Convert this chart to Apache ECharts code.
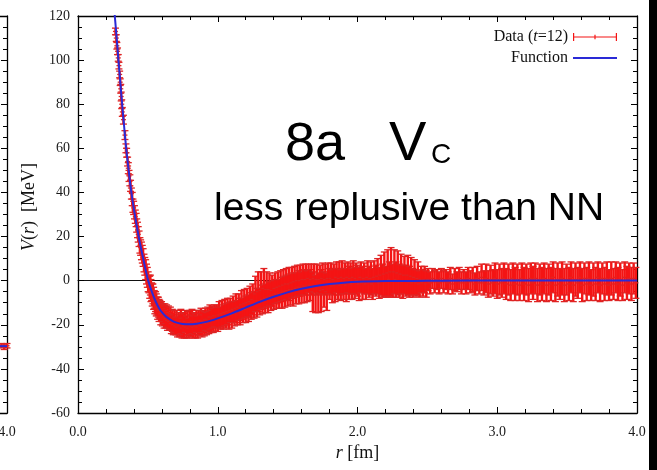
<!DOCTYPE html>
<html>
<head>
<meta charset="utf-8">
<script src="https://cdn.jsdelivr.net/npm/echarts/dist/echarts.min.js"></script>
<style>
  html, body { margin: 0; padding: 0; background: #fff; }
  #chart { width: 657px; height: 470px; }
</style>
</head>
<body>
<div id="chart"></div>
<script>
// Central potential V_C(r) of the 8a channel: lattice data (t=12) with error bars and fitted function.

// Repulsive core, r < 0.5 fm
const coreR = [0.268,0.274,0.278,0.283,0.288,0.293,0.298,0.302,0.306,0.309,0.313,0.317,0.325,0.336,0.343,0.348,0.355,0.360,0.365,0.371,0.376,0.382,0.388,0.393,0.398,0.404,0.410,0.416,0.420,0.426,0.431,0.437,0.443,0.448,0.454,0.460,0.466,0.472,0.478,0.484,0.490,0.496];
const coreV = [113,110,106.5,104,101,97.5,93.5,90,87,83.5,80,76.5,73,66,60,58,54,51,47.5,45.5,43,39.5,37,34,33,31,29,27.5,25,23,21,19,16,15,13.5,12,10.5,8,6.5,5,3,1.5];
const coreE = [1.5,1.5,1.5,1.5,1.5,1.5,1.5,1.5,2,2,2,2,2,2,2,2,2,2.5,2.5,2.5,2.5,2.5,3,3,3,3,3,3,3,3.5,3.5,3.5,3.5,3.5,4,4,4,4,4,4.5,4.5,4.5];

// Attractive pocket, 0.5 - 1.0 fm
const wellR = [0.502,0.508,0.513,0.518,0.522,0.527,0.531,0.536,0.541,0.546,0.550,0.555,0.560,0.565,0.570,0.575,0.580,0.586,0.592,0.598,0.604,0.610,0.616,0.622,0.628,0.634,0.640,0.647,0.654,0.661,0.668,0.675,0.682,0.690,0.697,0.705,0.712,0.720,0.728,0.736,0.744,0.752,0.760,0.768,0.776,0.784,0.792,0.800,0.808,0.816,0.824,0.832,0.840,0.848,0.856,0.864,0.872,0.880,0.888,0.896,0.904,0.912,0.920,0.928,0.936,0.944,0.952,0.960,0.968,0.976,0.984,0.992];
const wellV = [-0.5,-1.5,-3,-2,-4.5,-5,-6.5,-6,-8,-8.5,-10,-9.5,-11,-11.5,-12.5,-12,-13.5,-13,-15,-14,-15.5,-14.5,-16.5,-15,-17,-16,-18,-16.5,-18.5,-17,-19.5,-18,-20,-18.5,-20.5,-19,-21,-19.5,-20.5,-18.5,-21.5,-19.5,-20.5,-18.5,-21,-19.5,-21.5,-19,-20.5,-18.5,-21,-19.5,-20.5,-18.5,-21,-19,-20,-18,-20.5,-18.5,-19.5,-17.5,-19.5,-17.5,-19,-16.5,-18.5,-16.5,-18,-16,-17.5,-16];
const wellE = [4.5,4,5,4.5,5,4,5,4.5,5,4,5,4.5,5,4,5,4.5,5,4,5,4.5,5,4,5,4.5,4.5,5,4.5,5,4,5,4.5,5,4.5,5,4,5.5,4.5,5,5,5.5,4.5,5,5.5,5,5,5.5,4.5,5.5,5,5.5,5,5,5.5,5,5,5.5,5,5.5,5,5,5.5,5,5,5.5,5,5.5,5,5,5.5,5,5.5,5];

// Rise back towards zero, 1.0 - 2.0 fm
const riseR = [1.00,1.01,1.02,1.03,1.04,1.05,1.06,1.07,1.08,1.09,1.10,1.11,1.12,1.13,1.14,1.15,1.16,1.17,1.18,1.19,1.20,1.21,1.22,1.23,1.24,1.25,1.26,1.27,1.28,1.29,1.30,1.31,1.32,1.33,1.34,1.35,1.36,1.37,1.38,1.39,1.40,1.41,1.42,1.43,1.44,1.45,1.46,1.47,1.48,1.49,1.50,1.51,1.52,1.53,1.54,1.55,1.56,1.57,1.58,1.59,1.60,1.61,1.62,1.63,1.64,1.65,1.66,1.67,1.68,1.69,1.70,1.71,1.72,1.73,1.74,1.75,1.76,1.77,1.78,1.79,1.80,1.81,1.82,1.83,1.84,1.85,1.86,1.87,1.88,1.89,1.90,1.91,1.92,1.93,1.94,1.95,1.96,1.97,1.98,1.99];
const riseV = [-17.5,-15.5,-17,-15,-16.5,-14.5,-16,-14,-16,-13.5,-15.5,-13,-15,-12.5,-14.5,-12,-14,-11,-13.5,-10.5,-13,-10,-12.5,-9.5,-11.5,-8.5,-11,-6,-10,-5,-9.5,-4.5,-8.5,-3.5,-8,-4,-7.5,-4,-7,-4.5,-6.5,-3.5,-6,-3,-6,-2.5,-5.5,-2,-5,-1.5,-4.5,-1.5,-4,-1,-4,-0.5,-3.5,0,-3,0,-3,0.5,-2.5,0.5,-2.5,1,-2,0.5,-5,1,-6,0.5,-5.5,0.5,-4.5,1,-4,0.5,-5,1,-1.5,1,-2.5,0.5,-2,1.5,-1.5,1,-2,1.5,-1.5,1,-2,1.5,-1,1,-1.5,1.5,-1,1];
const riseE = [5.5,6,5,6,5.5,6,5.5,6,6,5.5,6,6,5.5,6.5,5.5,6,6,6.5,5.5,6.5,6,6.5,6,7,6,7,6,8,6.5,9,6,8.5,6.5,9,6.5,8,7,7.5,6.5,7,6.5,7,6.5,7,6.5,7,7,7,7,7,7,7.5,7,7,7.5,7,7,7,7.5,7,7,7,7.5,7,7,6.5,7,7,9,6.5,8.5,7,9,6.5,9.5,7,8,7,8.5,7,7,7,7.5,7,7.5,7,7,7.5,7,7.5,7,7,7.5,7,7.5,7,7,7.5,7,7];

// Flat region with the larger-error bump, 2.0 - 2.5 fm
const midR = [2.000,2.012,2.024,2.036,2.048,2.060,2.072,2.084,2.096,2.108,2.120,2.132,2.144,2.156,2.168,2.180,2.192,2.204,2.216,2.228,2.240,2.252,2.264,2.276,2.288,2.300,2.312,2.324,2.336,2.348,2.360,2.372,2.384,2.396,2.408,2.420,2.432,2.444,2.456,2.468,2.480,2.492];
const midV = [0,-1.5,1.5,-1,1,-1.5,1.5,-0.5,1,-1.5,1.5,0,2,-1,2.5,0,3,-0.5,3.5,0.5,4,0,4,0.5,3.5,0,3,-0.5,2.5,0,2.5,-0.5,2,-1,1.5,-1,1,-1.5,0.5,-1,0.5,-1.5];
const midE = [7,7.5,7,7.5,7,7,7.5,7,7.5,7,7.5,7,8,7,9,7.5,10,7,10.5,8,11,7.5,10,8,10,7.5,9,7.5,8.5,7,9,7,8.5,6.5,8,6,7.5,6,6,6,6,6];

// Long-range tail, 2.5 - 4.0 fm
const tailR = [2.504,2.520,2.536,2.552,2.568,2.584,2.600,2.616,2.632,2.648,2.664,2.680,2.696,2.712,2.728,2.744,2.760,2.776,2.792,2.808,2.824,2.840,2.856,2.872,2.888,2.904,2.920,2.936,2.952,2.968,2.984,3.000,3.016,3.032,3.048,3.064,3.080,3.096,3.112,3.128,3.144,3.160,3.176,3.192,3.208,3.224,3.240,3.256,3.272,3.288,3.304,3.320,3.336,3.352,3.368,3.384,3.400,3.416,3.432,3.448,3.464,3.480,3.496,3.512,3.528,3.544,3.560,3.576,3.592,3.608,3.624,3.640,3.656,3.672,3.688,3.704,3.720,3.736,3.752,3.768,3.784,3.800,3.816,3.832,3.848,3.864,3.880,3.896,3.912,3.928,3.944,3.960,3.976,3.992];
const tailV = [0.5,-1,1,-0.5,0.5,-1,1,-0.5,0.5,-1,1,-1.5,0.5,-0.5,1,-1,0.5,-1,1,-0.5,0.5,-1.5,1,-1,1.5,-1,1,-1.5,0.5,-1,1,-1.5,0.5,-1,1,-1.5,0.5,-2,1,-1.5,0.5,-2,1,-1.5,0.5,-2,1,-1,1,-2,0.5,-1.5,1,-2,0.5,-1.5,1.5,-2,0.5,-1.5,1,-2,0.5,-1.5,1.5,-2,0.5,-1,1.5,-2,1,-1.5,1,-2,0.5,-1.5,1.5,-2,1,-1.5,1,-2,1,-1.5,1.5,-1.5,0.5,-2,1.5,-1,1,-1.5,1,-1];
const tailE = [5,5,4.5,5,4.5,5,4.5,5,4.5,5,5,4.5,5,4.5,5,5,4.5,5,5,5,5.5,5,5.5,5,6,5.5,6.5,6,6.5,6,7,6.5,7,6.5,7,7,7,7,7,7.5,7,7,7,7.5,7,7.5,7,7.5,7,7.5,7,7.5,7,7.5,7,7.5,7,7.5,7.5,7,7.5,7.5,7,7.5,7,7.5,7.5,7,7,7.5,7,7.5,7.5,7,7.5,7.5,7,7.5,7,7.5,7.5,7,7.5,7,7,7.5,7.5,7,7,7.5,7,7.5,7,7];

// Fitted function
const fitR = [0.262,0.27,0.28,0.29,0.30,0.31,0.32,0.33,0.34,0.35,0.36,0.37,0.38,0.39,0.40,0.42,0.44,0.46,0.48,0.50,0.52,0.54,0.56,0.58,0.60,0.625,0.65,0.675,0.70,0.75,0.80,0.85,0.90,0.95,1.0,1.1,1.2,1.3,1.4,1.5,1.6,1.7,1.8,1.9,2.0,2.2,2.4,2.6,3.0,3.5,4.0];
const fitV = [121,115,107.5,99.5,92,84.5,77,70,63,57,51.5,46,41,36.5,32.5,25,18,12,6,0.5,-3.5,-7,-10,-12.5,-14.3,-16,-17.2,-18.2,-18.9,-19.6,-19.8,-19.5,-18.9,-18.1,-17.1,-14.8,-12.2,-9.6,-7.3,-5.3,-3.7,-2.4,-1.5,-0.9,-0.5,-0.2,-0.1,0,0.1,0.1,0.1];

// Edge of the neighbouring panel on the left
const prevR = [3.960, 3.980, 4.000];
const prevV = [-29.5, -30, -29.5];
const prevE = [1, 1.2, 1];
const prevFitR = [3.90, 4.00];
const prevFitV = [-29.7, -29.7];

// Axis ticks
const rTicks = { min: 0, max: 4, step: 1 };
const vTicks = { min: -60, max: 120, step: 20 };

const DATA_NAME = 'Data (t=12)';
const FIT_NAME = 'Function';
const RED = '#f41414';
const CAP_RED = '#de2424';
const BLUE = '#2a2ad6';
const SERIF = '"Liberation Serif", "DejaVu Serif", serif';
const SANS = '"Liberation Sans", Arial, sans-serif';

function rows(rs, vs, es) {
  const out = [];
  for (let i = 0; i < rs.length; i++) out.push([rs[i], vs[i], es[i]]);
  return out;
}
const latticeRows = [].concat(
  rows(coreR, coreV, coreE),
  rows(wellR, wellV, wellE),
  rows(riseR, riseV, riseE),
  rows(midR, midV, midE),
  rows(tailR, tailV, tailE)
);
const fitRows = fitR.map((r, i) => [r, fitV[i]]);

function errorBarItem(params, api) {
  const r = api.value(0), v = api.value(1), e = api.value(2);
  const hi = api.coord([r, v + e]);
  const lo = api.coord([r, v - e]);
  const mid = api.coord([r, v]);
  const hw = 3.5;
  const bar = { stroke: RED, lineWidth: 2.4 };
  const cap = { stroke: CAP_RED, lineWidth: 1.3 };
  return {
    type: 'group',
    children: [
      { type: 'line', shape: { x1: hi[0], y1: hi[1], x2: lo[0], y2: lo[1] }, style: bar },
      { type: 'line', shape: { x1: hi[0] - hw, y1: hi[1], x2: hi[0] + hw, y2: hi[1] }, style: cap },
      { type: 'line', shape: { x1: lo[0] - hw, y1: lo[1], x2: lo[0] + hw, y2: lo[1] }, style: cap },
      { type: 'line', shape: { x1: mid[0] - 2.5, y1: mid[1], x2: mid[0] + 2.5, y2: mid[1] }, style: cap }
    ]
  };
}

const frameLine = { onZero: false, lineStyle: { color: '#000', width: 1.3 } };
const tickIn = { inside: true, length: 6, lineStyle: { color: '#000', width: 1 } };
const minorIn = (n) => ({ show: true, splitNumber: n, length: 4, lineStyle: { color: '#000', width: 1 } });
const labelStyle = { fontFamily: SERIF, fontSize: 14, color: '#1a1a1a' };

function rAxis(grid, pos, extra) {
  return Object.assign({
    type: 'value', gridIndex: grid, position: pos,
    min: rTicks.min, max: rTicks.max, interval: rTicks.step,
    axisLine: frameLine, axisTick: tickIn, minorTick: minorIn(5),
    splitLine: { show: false }, minorSplitLine: { show: false },
    axisLabel: { show: false }
  }, extra || {});
}
function vAxis(grid, pos, extra) {
  return Object.assign({
    type: 'value', gridIndex: grid, position: pos,
    min: vTicks.min, max: vTicks.max, interval: vTicks.step,
    axisLine: frameLine, axisTick: tickIn, minorTick: minorIn(4),
    splitLine: { show: false }, minorSplitLine: { show: false },
    axisLabel: { show: false }
  }, extra || {});
}

// Legend icons: error-bar sample and a line sample
const errorIcon = 'path://M0,0H1.2V8H0Z M42.8,0H44V8H42.8Z M0,3.5H44V4.6H0Z M21.4,1.8H22.6V6.2H21.4Z';
const lineIcon = 'path://M0,0L0.01,0L0,0.01Z M0,3H44V5H0Z M44,8L43.99,8L44,7.99Z';

const legendText = {
  fontFamily: SERIF, fontSize: 16, color: '#111',
  rich: {
    n: { fontFamily: SERIF, fontSize: 16, color: '#111' },
    i: { fontFamily: SERIF, fontSize: 16, color: '#111', fontStyle: 'italic' }
  }
};

const chart = echarts.init(document.getElementById('chart'), null, { renderer: 'canvas' });
chart.setOption({
  animation: false,
  backgroundColor: '#fff',
  textStyle: { fontFamily: SERIF },
  grid: [
    { left: 78, right: 20, top: 16, bottom: 57, outerBoundsMode: 'none', containLabel: false },
    { left: -555, right: 650, top: 16, bottom: 57, outerBoundsMode: 'none', containLabel: false }
  ],
  legend: [
    {
      orient: 'vertical', right: 35, top: 24, align: 'right', selectedMode: false,
      itemWidth: 44, itemHeight: 8, data: [{ name: DATA_NAME, icon: errorIcon }],
      formatter: () => '{n|Data (}{i|t}{n|=12)}', textStyle: legendText
    },
    {
      orient: 'vertical', right: 35, top: 45, align: 'right', selectedMode: false,
      itemWidth: 44, itemHeight: 8, data: [{ name: FIT_NAME, icon: lineIcon }],
      textStyle: legendText
    }
  ],
  xAxis: [
    rAxis(0, 'bottom', {
      axisLabel: Object.assign({ show: true, margin: 12, formatter: (v) => v.toFixed(1) }, labelStyle),
      name: '{i|r} [fm]', nameLocation: 'middle', nameGap: 30,
      nameTextStyle: {
        fontFamily: SERIF, fontSize: 18, color: '#111',
        rich: { i: { fontFamily: SERIF, fontSize: 18, color: '#111', fontStyle: 'italic' } }
      }
    }),
    rAxis(0, 'top'),
    // thin reference line at V = 0
    {
      type: 'value', gridIndex: 0, position: 'bottom',
      min: rTicks.min, max: rTicks.max,
      axisLine: { onZero: true, onZeroAxisIndex: 0, lineStyle: { color: '#111', width: 1 } },
      axisTick: { show: false }, axisLabel: { show: false }, splitLine: { show: false }
    },
    rAxis(1, 'bottom', {
      axisLabel: Object.assign({ show: true, margin: 12, formatter: (v) => v.toFixed(1) }, labelStyle)
    }),
    rAxis(1, 'top')
  ],
  yAxis: [
    vAxis(0, 'left', {
      axisLabel: Object.assign({ show: true, margin: 8 }, labelStyle),
      name: '{i|V}({i|r})  [MeV]', nameLocation: 'middle', nameGap: 34, nameRotate: 90,
      nameTextStyle: {
        fontFamily: SERIF, fontSize: 18, color: '#111', padding: [0, 0, 0, 15],
        rich: { i: { fontFamily: SERIF, fontSize: 18, color: '#111', fontStyle: 'italic' } }
      }
    }),
    vAxis(0, 'right'),
    vAxis(1, 'right')
  ],
  series: [
    {
      name: DATA_NAME, type: 'custom', xAxisIndex: 0, yAxisIndex: 0, z: 3,
      itemStyle: { color: RED }, renderItem: errorBarItem,
      dimensions: ['r', 'V', 'err'], encode: { x: 0, y: 1 }, data: latticeRows
    },
    {
      name: FIT_NAME, type: 'line', xAxisIndex: 0, yAxisIndex: 0, z: 4,
      smooth: 0.25, showSymbol: false, clip: true,
      itemStyle: { color: BLUE }, lineStyle: { color: BLUE, width: 2 },
      data: fitRows
    },
    {
      name: 'neighbour data', type: 'custom', xAxisIndex: 3, yAxisIndex: 2, z: 3,
      itemStyle: { color: RED }, renderItem: errorBarItem,
      encode: { x: 0, y: 1 }, data: rows(prevR, prevV, prevE)
    },
    {
      name: 'neighbour fit', type: 'line', xAxisIndex: 3, yAxisIndex: 2, z: 4,
      showSymbol: false, clip: false, lineStyle: { color: BLUE, width: 2 },
      data: prevFitR.map((r, i) => [r, prevFitV[i]])
    }
  ],
  graphic: [
    { type: 'text', z: 10, style: { x: 285, y: 145, text: '8a', font: '54px ' + SANS, fill: '#000', verticalAlign: 'middle' } },
    { type: 'text', z: 10, style: { x: 389, y: 145, text: 'V', font: '56px ' + SANS, fill: '#000', verticalAlign: 'middle' } },
    { type: 'text', z: 10, style: { x: 431, y: 155, text: 'C', font: '28px ' + SANS, fill: '#000', verticalAlign: 'middle' } },
    { type: 'text', z: 10, style: { x: 214, y: 209, text: 'less replusive than NN', font: '39px ' + SANS, fill: '#000', verticalAlign: 'middle' } },
    { type: 'rect', z: 20, shape: { x: 649, y: 0, width: 8, height: 470 }, style: { fill: '#000' } }
  ]
});
</script>
</body>
</html>
